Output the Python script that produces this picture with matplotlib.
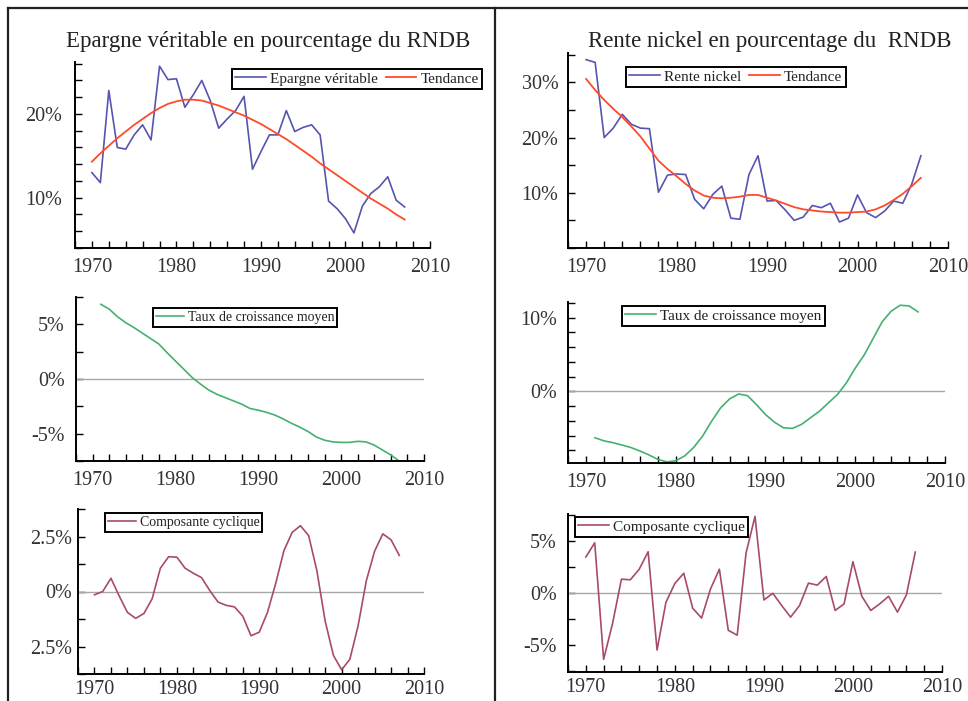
import matplotlib
matplotlib.use('Agg')
import matplotlib.pyplot as plt
from matplotlib.lines import Line2D
from matplotlib.ticker import MultipleLocator, FixedLocator

plt.rcParams['font.family'] = ['Liberation Serif', 'DejaVu Serif']

years = list(range(1970, 2008))
years_g = list(range(1971, 2008))

epargne = [13.0, 11.8, 22.8, 16.0, 15.8, 17.5, 18.7, 16.9, 25.7, 24.1,
           24.2, 20.8, 22.3, 24.0, 21.6, 18.3, 19.4, 20.4, 22.1, 13.4,
           15.5, 17.5, 17.5, 20.4, 17.9, 18.4, 18.7, 17.5, 9.6, 8.7,
           7.5, 5.8, 9.0, 10.5, 11.3, 12.5, 9.7, 8.9]
epargne_trend = [14.3, 15.3, 16.2, 17.1, 17.9, 18.7, 19.4, 20.1, 20.7, 21.2,
                 21.5, 21.7, 21.7, 21.6, 21.3, 21.0, 20.6, 20.2, 19.8, 19.3,
                 18.8, 18.2, 17.6, 17.0, 16.3, 15.6, 14.9, 14.1, 13.4, 12.7,
                 12.0, 11.3, 10.6, 9.9, 9.3, 8.7, 8.0, 7.4]

rente = [34.1, 33.6, 20.0, 21.7, 24.2, 22.4, 21.7, 21.6, 10.1, 13.2,
         13.4, 13.3, 8.8, 7.1, 9.7, 11.2, 5.4, 5.2, 13.3, 16.7,
         8.5, 8.6, 6.9, 5.0, 5.6, 7.7, 7.3, 8.1, 4.7, 5.4,
         9.6, 6.4, 5.5, 6.7, 8.5, 8.1, 11.6, 16.7]
rente_trend = [30.6, 28.6, 26.8, 25.2, 23.7, 22.0, 20.2, 18.0, 15.8, 14.3,
               13.0, 11.6, 10.4, 9.5, 9.1, 9.0, 9.1, 9.3, 9.6, 9.6,
               9.1, 8.6, 8.0, 7.4, 7.0, 6.8, 6.6, 6.5, 6.4, 6.4,
               6.5, 6.6, 7.0, 7.7, 8.7, 9.8, 11.2, 12.7]

croiss_epargne = [6.83, 6.4, 5.7, 5.15, 4.7, 4.2, 3.7, 3.2, 2.4, 1.65,
                  0.9, 0.15, -0.45, -1.0, -1.4, -1.7, -2.0, -2.3, -2.7, -2.85,
                  -3.05, -3.3, -3.65, -4.05, -4.4, -4.8, -5.3, -5.6, -5.75, -5.8,
                  -5.8, -5.7, -5.75, -6.05, -6.5, -6.95, -7.5]
croiss_rente = [-6.28, -6.7, -6.95, -7.26, -7.6, -8.07, -8.6, -9.2, -9.55, -9.4,
                -8.74, -7.6, -6.05, -4.04, -2.24, -1.03, -0.36, -0.58, -1.8, -3.14,
                -4.17, -4.93, -5.02, -4.48, -3.59, -2.7, -1.57, -0.45, 1.12, 3.14,
                4.93, 7.17, 9.42, 10.85, 11.66, 11.57, 10.76]

cycl_epargne = [-0.15, 0.0, 0.6, -0.2, -0.95, -1.22, -1.0, -0.33, 1.06, 1.58,
                1.56, 1.06, 0.83, 0.63, 0.04, -0.48, -0.63, -0.7, -1.12, -2.01,
                -1.85, -0.95, 0.37, 1.86, 2.69, 2.99, 2.54, 0.94, -1.34, -2.9,
                -3.56, -3.08, -1.56, 0.49, 1.83, 2.62, 2.35, 1.64]
cycl_rente = [3.46, 4.83, -6.38, -2.95, 1.33, 1.27, 2.29, 3.97, -5.49, -0.89,
              0.92, 1.9, -1.46, -2.41, 0.38, 2.29, -3.59, -4.06, 3.87, 7.37,
              -0.67, -0.03, -1.21, -2.32, -1.21, 0.95, 0.76, 1.59, -1.68, -1.05,
              3.02, -0.32, -1.68, -1.05, -0.32, -1.84, -0.19, 3.94]

title_left = "Epargne véritable en pourcentage du RNDB"
title_right = "Rente nickel en pourcentage du  RNDB"
x_ticks = [1970, 1980, 1990, 2000, 2010]

BLUE = '#5555b0'
RED = '#ff4a2a'
GREEN = '#45b070'
MAUVE = '#a84a6a'
ZERO = '#a8a8a8'

W, H = 968, 701
fig = plt.figure(figsize=(W / 100, H / 100), dpi=100)


def add_ax(l, r, t, b):
    return fig.add_axes([l / W, 1 - b / H, (r - l) / W, (b - t) / H])


def style(ax, ylim, ymajor, ylabels, yminor, ypad=8, xpad=7):
    ax.set_xlim(1968, 2010)
    ax.set_ylim(*ylim)
    ax.patch.set_alpha(0)
    for s in ['top', 'right']:
        ax.spines[s].set_visible(False)
    for s in ['left', 'bottom']:
        ax.spines[s].set_linewidth(1.4)
        ax.spines[s].set_color('black')
    ax.xaxis.set_major_locator(FixedLocator(x_ticks))
    ax.xaxis.set_minor_locator(MultipleLocator(2))
    ax.set_xticklabels([str(v) for v in x_ticks])
    ax.set_yticks(ymajor)
    ax.set_yticklabels(ylabels)
    ax.yaxis.set_minor_locator(MultipleLocator(yminor))
    ax.tick_params(which='both', direction='in', length=5, width=1,
                   colors='black', labelcolor='#333333', labelsize=14.5)
    ax.tick_params(axis='x', which='both', pad=xpad)
    ax.tick_params(axis='y', which='both', pad=ypad)


def legend(ax, x, y, fs, ncol=1):
    leg = ax.legend(loc='upper left', bbox_to_anchor=(x / W, 1 - y / H),
                    bbox_transform=fig.transFigure, borderaxespad=0,
                    fancybox=False, framealpha=1, edgecolor='black',
                    fontsize=fs, ncol=ncol, borderpad=0.2, handletextpad=0.3,
                    columnspacing=0.5, handlelength=2.0, labelcolor='#222222')
    leg.get_frame().set_linewidth(1.4)
    return leg


# Panel 1
ax1 = add_ax(75, 430, 62, 248)
ax1.plot(years, epargne, color=BLUE, lw=1.2, label='Epargne véritable')
ax1.plot(years, epargne_trend, color=RED, lw=1.3, label='Tendance')
style(ax1, (4, 26.2), [10, 20], ['10%', '20%'], 2, ypad=9)
legend(ax1, 232, 69, 11, ncol=2)

# Panel 2
ax2 = add_ax(568, 948, 53, 248)
ax2.plot(years, rente, color=BLUE, lw=1.2, label='Rente nickel')
ax2.plot(years, rente_trend, color=RED, lw=1.3, label='Tendance')
style(ax2, (0, 35.3), [10, 20, 30], ['10%', '20%', '30%'], 5, ypad=7)
legend(ax2, 626, 67, 11, ncol=2)

# Panel 3
ax3 = add_ax(76, 424, 297, 461)
ax3.axhline(0, color=ZERO, lw=1)
ax3.plot(years_g, croiss_epargne, color=GREEN, lw=1.2, label='Taux de croissance moyen')
style(ax3, (-7.5, 7.5), [-5, 0, 5], ['-5%', '0%', '5%'], 2.5, ypad=8)
legend(ax3, 153, 308, 10)

# Panel 4
ax4 = add_ax(568, 945, 302, 463)
ax4.axhline(0, color=ZERO, lw=1)
ax4.plot(years_g, croiss_rente, color=GREEN, lw=1.2, label='Taux de croissance moyen')
style(ax4, (-9.7, 12.1), [0, 10], ['0%', '10%'], 2, ypad=8)
legend(ax4, 622, 306, 11)

# Panel 5
ax5 = add_ax(78, 424, 509, 674)
ax5.axhline(0, color=ZERO, lw=1)
ax5.plot(years, cycl_epargne, color=MAUVE, lw=1.2, label='Composante cyclique')
style(ax5, (-3.75, 3.75), [-2.5, 0, 2.5], ['2.5%', '0%', '2.5%'], 1.25, ypad=4, xpad=4)
legend(ax5, 105, 513, 10)

# Panel 6
ax6 = add_ax(568, 942, 514, 672)
ax6.axhline(0, color=ZERO, lw=1)
ax6.plot(years, cycl_rente, color=MAUVE, lw=1.2, label='Composante cyclique')
style(ax6, (-7.6, 7.6), [-5, 0, 5], ['-5%', '0%', '5%'], 2.5, ypad=8, xpad=4)
legend(ax6, 575, 517, 11)

# Titles
fig.text(268 / W, 1 - 47 / H, title_left, ha='center', va='baseline',
         fontsize=16.5, color='#222222')
fig.text(770 / W, 1 - 47 / H, title_right, ha='center', va='baseline',
         fontsize=16.5, color='#222222')

# Frame lines
fc = '#202020'
fig.add_artist(Line2D([8 / W, 1.0], [1 - 8.3 / H, 1 - 8.3 / H], color=fc, lw=1.6,
                      transform=fig.transFigure))
fig.add_artist(Line2D([8 / W, 8 / W], [0, 1 - 8.3 / H], color=fc, lw=1.6,
                      transform=fig.transFigure))
fig.add_artist(Line2D([494.5 / W, 494.5 / W], [0, 1 - 8.3 / H], color=fc, lw=1.6,
                      transform=fig.transFigure))

fig.savefig('out.png', dpi=100)
